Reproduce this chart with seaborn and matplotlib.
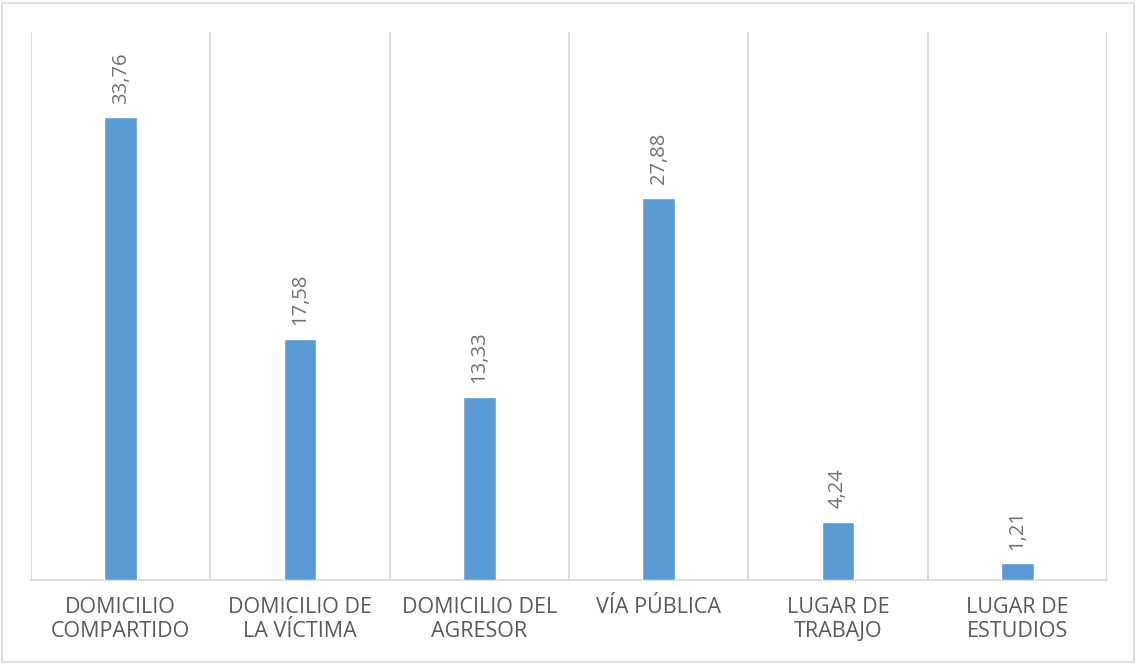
import matplotlib
matplotlib.use("Agg")
import matplotlib.pyplot as plt
import seaborn as sns
import pandas as pd
from matplotlib.patches import Rectangle

categories = ["DOMICILIO\nCOMPARTIDO", "DOMICILIO DE\nLA VÍCTIMA", "DOMICILIO DEL\nAGRESOR",
              "VÍA PÚBLICA", "LUGAR DE\nTRABAJO", "LUGAR DE\nESTUDIOS"]
values = [33.76, 17.58, 13.33, 27.88, 4.24, 1.21]

sns.set_theme(style="white")
plt.rcParams['font.family'] = ['Open Sans', 'DejaVu Sans']

df = pd.DataFrame({"cat": categories, "val": values})

fig = plt.figure(figsize=(11.36, 6.65), dpi=100)
ax = fig.add_axes([31/1136, 85/665, (1107-31)/1136, (580-32)/665])

sns.barplot(data=df, x="cat", y="val", color="#5B9BD5", width=0.184, ax=ax,
            saturation=1, zorder=3)

ax.set_ylim(0, 40)
ax.set_xlim(-0.5, len(categories) - 0.5)
ax.set_yticks([])
ax.set_xlabel("")
ax.set_ylabel("")

ax.set_xticks([i + 0.5 for i in range(-1, len(categories))], minor=True)
ax.grid(False)
ax.grid(True, which="minor", axis="x", color="#d9d9d9", linewidth=1.3)
ax.tick_params(axis="x", which="both", length=0, pad=12, labelsize=15.5, labelcolor="#595959")
for lbl in ax.get_xticklabels():
    lbl.set_verticalalignment("top")
    lbl.set_multialignment("center")
    lbl.set_linespacing(1.2)

for s in ["left", "right", "top"]:
    ax.spines[s].set_visible(False)
ax.spines["bottom"].set_color("#d9d9d9")
ax.spines["bottom"].set_linewidth(1.3)

labels = [f"{v:.2f}".replace(".", ",") for v in values]
ax.bar_label(ax.containers[0], labels=labels, rotation=90, padding=10,
             fontsize=14.5, color="#707070")

fig.patches.append(Rectangle((2/1136, 3/665), 1132/1136, 659/665, transform=fig.transFigure,
                             fill=False, edgecolor="#d9d9d9", linewidth=1.2))

fig.savefig("out.png", dpi=100)
